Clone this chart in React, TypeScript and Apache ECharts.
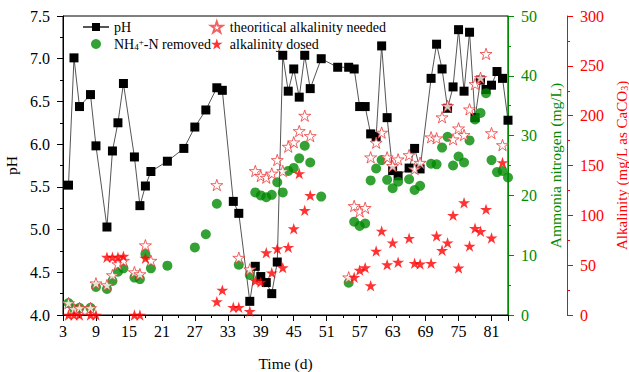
import React, { useEffect, useRef } from "react";
import * as echarts from "echarts";

// pH (left axis)
const phDays = [4, 5, 6, 8, 9, 11, 12, 13, 14, 16, 17, 18, 19, 22, 25, 27, 29, 31, 32, 34, 35, 37, 38, 39, 40, 41, 42, 43, 44, 45, 46, 47, 48, 50, 53, 55, 56, 57, 58, 59, 60, 61, 62, 63, 64, 66, 67, 68, 70, 71, 72, 73, 74, 75, 76, 77, 78, 79, 80, 81, 82, 83, 84];
const phValues = [5.52, 7.01, 6.44, 6.58, 5.98, 5.03, 5.92, 6.25, 6.71, 5.85, 5.28, 5.51, 5.68, 5.80, 5.95, 6.20, 6.40, 6.66, 6.63, 5.33, 5.19, 4.16, 4.57, 4.45, 4.38, 4.25, 4.62, 7.04, 6.62, 6.88, 6.55, 7.04, 6.65, 7.00, 6.90, 6.90, 6.88, 6.44, 6.44, 6.12, 6.09, 7.15, 6.31, 5.69, 5.63, 5.72, 5.95, 5.71, 6.77, 7.17, 6.88, 6.42, 6.67, 7.34, 6.62, 7.31, 6.31, 6.75, 6.64, 6.69, 6.85, 6.77, 6.28];

// NH4+-N removed (mg/L)
const nDays = [4, 5, 6, 8, 9, 11, 12, 13, 14, 16, 17, 18, 19, 22, 27, 29, 31, 35, 37, 38, 39, 40, 41, 42, 43, 44, 45, 46, 47, 48, 50, 55, 56, 57, 58, 59, 60, 61, 62, 63, 64, 66, 67, 68, 70, 71, 72, 73, 74, 75, 76, 77, 78, 79, 80, 81, 82, 83, 84];
const nValues = [2.0, 1.0, 1.2, 1.2, 4.7, 4.35, 5.7, 7.25, 7.8, 6.25, 6.0, 10.2, 7.8, 8.25, 11.3, 13.5, 18.6, 8.4, 6.7, 20.5, 20.0, 19.7, 20.1, 22.2, 20.5, 24.1, 24.6, 26.2, 28.3, 25.5, 19.8, 5.4, 15.6, 14.9, 15.3, 22.5, 24.5, 25.9, 22.6, 21.2, 22.3, 22.7, 20.9, 21.6, 25.3, 25.2, 28.0, 29.8, 25.0, 26.5, 25.5, 29.2, 32.7, 33.8, 37.1, 25.9, 23.9, 24.1, 23.0];

// theoritical alkalinity needed (mg/L as CaCO3)
const needDays = [4, 5, 6, 8, 9, 11, 12, 13, 14, 16, 17, 18, 19, 31, 35, 37, 38, 39, 40, 41, 42, 43, 44, 45, 46, 47, 48, 55, 56, 57, 58, 59, 60, 61, 62, 63, 64, 66, 67, 68, 70, 71, 72, 73, 74, 75, 76, 77, 78, 79, 80, 81, 83];
const needValues = [12, 6, 7, 7, 31.8, 30, 40, 51, 54.5, 43, 41, 70, 54.5, 130.4, 57.5, 45.9, 144.5, 139.5, 137.8, 142, 155.5, 144.5, 168.9, 173.3, 184.6, 200, 179.6, 37.8, 109.4, 104, 107.5, 158.2, 172.9, 183, 158.2, 149.5, 156.2, 160.5, 146.5, 152.8, 178.3, 177.3, 198.4, 209.7, 176.3, 187.3, 180.6, 206.4, 231.8, 238, 262, 182.5, 170.5];

// alkalinity dosed (mg/L as CaCO3)
const doseDays = [4, 5, 6, 8, 9, 11, 12, 13, 14, 16, 17, 18, 31, 32, 34, 35, 37, 38, 39, 40, 41, 42, 43, 44, 45, 46, 47, 48, 56, 57, 58, 59, 60, 61, 62, 63, 64, 66, 67, 68, 70, 71, 72, 73, 74, 75, 76, 77, 78, 79, 80, 81, 83];
const doseValues = [0, 0, 0, 0, 0, 58, 58, 58, 59, 0, 0, 57, 13.4, 25, 7.7, 7.7, 3.7, 34.4, 33, 62.5, 42.4, 66.5, 47.5, 68, 86.6, 142, 105, 120, 37.8, 45, 47.5, 29.4, 64.2, 84.3, 50.5, 72.5, 53, 77, 51.9, 51.2, 51.9, 79.3, 64.9, 72.5, 100, 47.2, 112.7, 69.2, 87, 84, 106, 77.3, 153];

const pHTicks = { min: 4, max: 7.5, interval: 0.5 };
const nTicks = { min: 0, max: 50, interval: 10 };
const alkTicks = { min: 0, max: 300, interval: 50 };
const dayTicks = { min: 3, max: 84, interval: 6 };

const STAR =
  "path://M0,-10L2.245,-3.09L9.51,-3.09L3.633,1.18L5.88,8.09L0,3.82L-5.88,8.09L-3.633,1.18L-9.51,-3.09L-2.245,-3.09Z";

const FONT = "Liberation Serif";
const GREEN = "#008a00";
const RED = "#ff0000";
const LABEL_SIZE = 16;
const NAME_SIZE = 15.5;

const pair = (xs: number[], ys: number[]) => xs.map((x, i) => [x, ys[i]]);

export default function App() {
  const ref = useRef<HTMLDivElement>(null);
  useEffect(() => {
    if (!ref.current) return;
    const chart = echarts.init(ref.current, undefined, { renderer: "svg" });
    const axisCommon = (color: string) => ({
      axisLine: { show: true, lineStyle: { color, width: 1 } },
      axisTick: { show: true, inside: false, length: 6, lineStyle: { color } },
      minorTick: { show: true, splitNumber: 2, length: 3, lineStyle: { color } },
      splitLine: { show: false },
      minorSplitLine: { show: false },
    });
    chart.setOption({
      animation: false,
      backgroundColor: "#fff",
      textStyle: { fontFamily: FONT },
      grid: {
        left: 63,
        right: 121,
        top: 16,
        bottom: 57,
        containLabel: false,
        outerBoundsMode: "none",
        show: true,
        borderColor: "#000",
        borderWidth: 1,
      },
      legend: [
        {
          left: 77,
          top: 15,
          orient: "vertical",
          itemWidth: 26,
          itemHeight: 10,
          itemGap: 3,
          data: ["pH", "NH4+-N removed"],
          formatter: (name: string) => (name === "NH4+-N removed" ? "NH{sub|4}{sup|+}-N removed" : name),
          textStyle: {
            fontFamily: FONT,
            fontSize: 14,
            lineHeight: 14,
            color: "#000",
            rich: {
              sub: { fontSize: 9, lineHeight: 8, fontFamily: FONT, color: "#000", verticalAlign: "bottom" },
              sup: { fontSize: 9, lineHeight: 8, fontFamily: FONT, color: "#000", verticalAlign: "top" },
            },
          },
        },
        {
          left: 205,
          top: 15,
          orient: "vertical",
          itemWidth: 16,
          itemHeight: 11,
          itemGap: 3,
          data: ["theoritical alkalinity needed", "alkalinity dosed"],
          textStyle: { fontFamily: FONT, fontSize: 14, lineHeight: 14, color: "#000" },
        },
      ],
      xAxis: {
        type: "value",
        ...dayTicks,
        ...axisCommon("#000"),
        axisLabel: { fontSize: LABEL_SIZE, color: "#000", fontFamily: FONT, margin: 8, showMaxLabel: false },
        name: "Time (d)",
        nameLocation: "middle",
        nameGap: 40,
        nameTextStyle: { fontSize: NAME_SIZE, color: "#000", fontFamily: FONT },
      },
      yAxis: [
        {
          type: "value",
          ...pHTicks,
          position: "left",
          ...axisCommon("#000"),
          axisLabel: { fontSize: LABEL_SIZE, color: "#000", fontFamily: FONT, margin: 13, formatter: (v: number) => v.toFixed(1) },
          name: "pH",
          nameLocation: "middle",
          nameGap: 38,
          nameRotate: 90,
          nameTextStyle: { fontSize: NAME_SIZE, color: "#000", fontFamily: FONT },
        },
        {
          type: "value",
          ...nTicks,
          position: "right",
          offset: 0,
          ...axisCommon(GREEN),
          axisLabel: { fontSize: LABEL_SIZE, color: GREEN, fontFamily: FONT, margin: 13 },
          name: "Ammonia nitrogen (mg/L)",
          nameLocation: "middle",
          nameGap: 38,
          nameRotate: 90,
          nameTextStyle: { fontSize: NAME_SIZE, color: GREEN, fontFamily: FONT },
        },
        {
          type: "value",
          ...alkTicks,
          position: "right",
          offset: 59,
          ...axisCommon(RED),
          axisLabel: { fontSize: LABEL_SIZE, color: RED, fontFamily: FONT, margin: 13 },
          name: "Alkalinity (mg/L as CaCO{sub|3})",
          nameLocation: "middle",
          nameGap: 44,
          nameRotate: 90,
          nameTextStyle: {
            fontSize: 15,
            color: RED,
            fontFamily: FONT,
            rich: { sub: { fontSize: 10, fontFamily: FONT, color: RED, verticalAlign: "bottom", lineHeight: 9 } },
          },
        },
      ],
      series: [
        {
          name: "pH",
          type: "line",
          yAxisIndex: 0,
          data: pair(phDays, phValues),
          symbol: "rect",
          symbolSize: 9,
          itemStyle: { color: "#000" },
          lineStyle: { color: "#555", width: 1 },
          z: 2,
        },
        {
          name: "NH4+-N removed",
          type: "scatter",
          yAxisIndex: 1,
          data: pair(nDays, nValues),
          symbol: "circle",
          symbolSize: 10,
          itemStyle: { color: GREEN },
          z: 3,
        },
        {
          name: "theoritical alkalinity needed",
          type: "scatter",
          yAxisIndex: 2,
          data: pair(needDays, needValues),
          symbol: STAR,
          symbolKeepAspect: true,
          symbolSize: 12,
          itemStyle: { color: "#fff", borderColor: "#ee3a3a", borderWidth: 1 },
          z: 4,
        },
        {
          name: "alkalinity dosed",
          type: "scatter",
          yAxisIndex: 2,
          data: pair(doseDays, doseValues),
          symbol: STAR,
          symbolKeepAspect: true,
          symbolSize: 12,
          itemStyle: { color: RED },
          z: 5,
        },
      ],
    });
    return () => chart.dispose();
  }, []);
  return <div ref={ref} style={{ width: 629, height: 372, position: "absolute", left: 0, top: 0 }} />;
}
